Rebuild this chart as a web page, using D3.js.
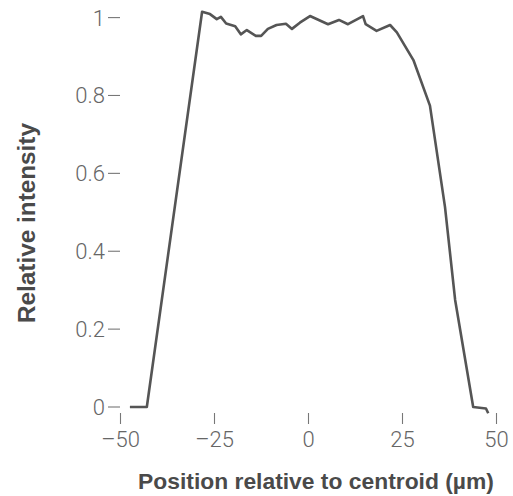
<!DOCTYPE html>
<html>
<head>
<meta charset="utf-8">
<script src="https://cdn.jsdelivr.net/npm/d3@7"></script>
<style>
  html, body { margin: 0; padding: 0; background: #fff; }
  svg { display: block; }
  .tick-label { font-family: Roboto, "Helvetica Neue", Arial, sans-serif; font-weight: 300; fill: #666; }
  .axis-title { font-family: "Liberation Sans", Arial, Helvetica, sans-serif; font-weight: bold; fill: #4a4a4a; }
</style>
</head>
<body>
<svg id="chart" width="513" height="496"></svg>
<script>
// Intensity profile across the spot, position in µm from the centroid
const positions = [-47.5, -43.0, -28.3, -26.2, -24.4, -23.3, -21.9, -19.5, -18.0, -16.4,
                   -14.0, -12.6, -10.8, -8.5, -6.0, -4.4, -2.3, 0.4, 5.2, 8.1,
                   10.5, 14.5, 15.2, 18.1, 21.7, 23.5, 27.9, 32.3, 36.3, 39.0,
                   43.8, 47.2, 47.8];
const intensity = [0.000, 0.000, 1.015, 1.009, 0.996, 1.002, 0.985, 0.978, 0.957, 0.968,
                   0.953, 0.953, 0.971, 0.981, 0.984, 0.971, 0.987, 1.004, 0.983, 0.994,
                   0.983, 1.004, 0.983, 0.966, 0.981, 0.962, 0.891, 0.774, 0.514, 0.275,
                   0.000, -0.004, -0.016];

const xTicks = [-50, -25, 0, 25, 50];
const xTickLabels = ["–50", "–25", "0", "25", "50"];
const yTicks = [0, 0.2, 0.4, 0.6, 0.8, 1];
const yTickLabels = ["0", "0.2", "0.4", "0.6", "0.8", "1"];

const xTitle = "Position relative to centroid (µm)";
const yTitle = "Relative intensity";

const svg = d3.select("#chart");

const x = d3.scaleLinear().domain([-50, 50]).range([120.5, 496.5]);
const y = d3.scaleLinear().domain([0, 1]).range([407, 17.6]);

const tickColor = "#777";

// Y axis: short dash at each value with the label to its left
const yAxis = svg.append("g");
yTicks.forEach((v, i) => {
  const py = y(v);
  yAxis.append("line")
    .attr("x1", 108).attr("x2", 120)
    .attr("y1", py).attr("y2", py)
    .attr("stroke", tickColor).attr("stroke-width", 1.1);
  yAxis.append("text")
    .attr("class", "tick-label")
    .attr("x", 105).attr("y", py)
    .attr("dy", "0.36em")
    .attr("text-anchor", "end")
    .style("font-size", "22px")
    .text(yTickLabels[i]);
});

// X axis: short vertical marks under the curve with centred labels
const xAxis = svg.append("g");
xTicks.forEach((v, i) => {
  const px = x(v);
  xAxis.append("line")
    .attr("x1", px).attr("x2", px)
    .attr("y1", 413).attr("y2", 424)
    .attr("stroke", tickColor).attr("stroke-width", 1.1);
  xAxis.append("text")
    .attr("class", "tick-label")
    .attr("x", px).attr("y", 447)
    .attr("text-anchor", "middle")
    .style("font-size", "22px")
    .text(xTickLabels[i]);
});

// Profile line
const line = d3.line()
  .x((d, i) => x(positions[i]))
  .y((d, i) => y(intensity[i]));

svg.append("path")
  .datum(intensity)
  .attr("d", line)
  .attr("fill", "none")
  .attr("stroke", "#555")
  .attr("stroke-width", 2.6)
  .attr("stroke-linejoin", "round");

// Axis titles, sized to their space
function fitText(sel, width, base) {
  const len = sel.node().getComputedTextLength();
  sel.style("font-size", (base * width / len).toFixed(2) + "px");
}

const xt = svg.append("text")
  .attr("class", "axis-title")
  .attr("x", 316).attr("y", 489)
  .attr("text-anchor", "middle")
  .style("font-size", "22px")
  .text(xTitle);
fitText(xt, 356, 22);

const yt = svg.append("text")
  .attr("class", "axis-title")
  .attr("transform", "translate(35,223) rotate(-90)")
  .attr("text-anchor", "middle")
  .style("font-size", "22px")
  .text(yTitle);
fitText(yt, 200, 22);
</script>
</body>
</html>
